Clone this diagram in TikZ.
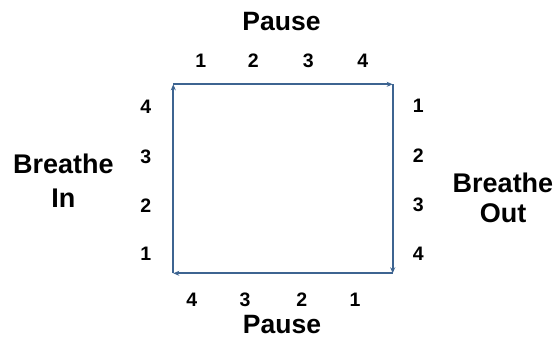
\documentclass[tikz,border=0pt]{standalone}
\usepackage{fontspec}
\setmainfont{Liberation Sans}
\usetikzlibrary{arrows.meta}
\definecolor{edgeblue}{HTML}{3D6491}
\tikzset{
  edge/.style={draw=edgeblue, line width=1.8pt, -{Stealth[length=6pt,width=5pt]}},
  big/.style={font=\bfseries\fontsize{27}{34}\selectfont, align=center, inner sep=0pt},
  pausetext/.style={font=\bfseries\fontsize{26.5}{30}\selectfont, inner sep=0pt, anchor=base},
  num/.style={font=\bfseries\fontsize{19.5}{22}\selectfont, inner sep=0pt, anchor=base}
}
\begin{document}
\begin{tikzpicture}[x=1pt,y=-1pt]
\useasboundingbox (0,0) rectangle (557,339);
\coordinate (tl) at (173.3,84.3);
\coordinate (tr) at (392.7,84.3);
\coordinate (br) at (392.7,273.3);
\coordinate (bl) at (173.3,273.3);
\draw[edge] (bl) -- (tl);
\draw[edge] (tl) -- (tr);
\draw[edge] (tr) -- (br);
\draw[edge] (br) -- (bl);
\node[pausetext] (ptop) at (281.5,30.7) {Pause};
\node[pausetext] (pbot) at (282,333) {Pause};
\node[big] (bin) at (63.3,181.2) {Breathe\\In};
\node[big, font=\bfseries\fontsize{27}{30}\selectfont] (bout) at (503,197.5) {Breathe\\Out};
% top numbers
\node[num] (t1) at (200.7,67.7) {1};
\node[num] (t2) at (253.3,67.7) {2};
\node[num] (t3) at (308.3,67.7) {3};
\node[num] (t4) at (362.7,67.7) {4};
% left numbers
\node[num] (l4) at (145.7,113.3) {4};
\node[num] (l3) at (145.7,164) {3};
\node[num] (l2) at (145.7,212.3) {2};
\node[num] (l1) at (145.7,260.7) {1};
% right numbers
\node[num] (r1) at (418.3,112.7) {1};
\node[num] (r2) at (418.3,162.7) {2};
\node[num] (r3) at (418.3,211.7) {3};
\node[num] (r4) at (418.3,260.7) {4};
% bottom numbers
\node[num] (b4) at (191.7,306.7) {4};
\node[num] (b3) at (245,306.7) {3};
\node[num] (b2) at (301.7,306.7) {2};
\node[num] (b1) at (355,306.7) {1};
\end{tikzpicture}
\end{document}
